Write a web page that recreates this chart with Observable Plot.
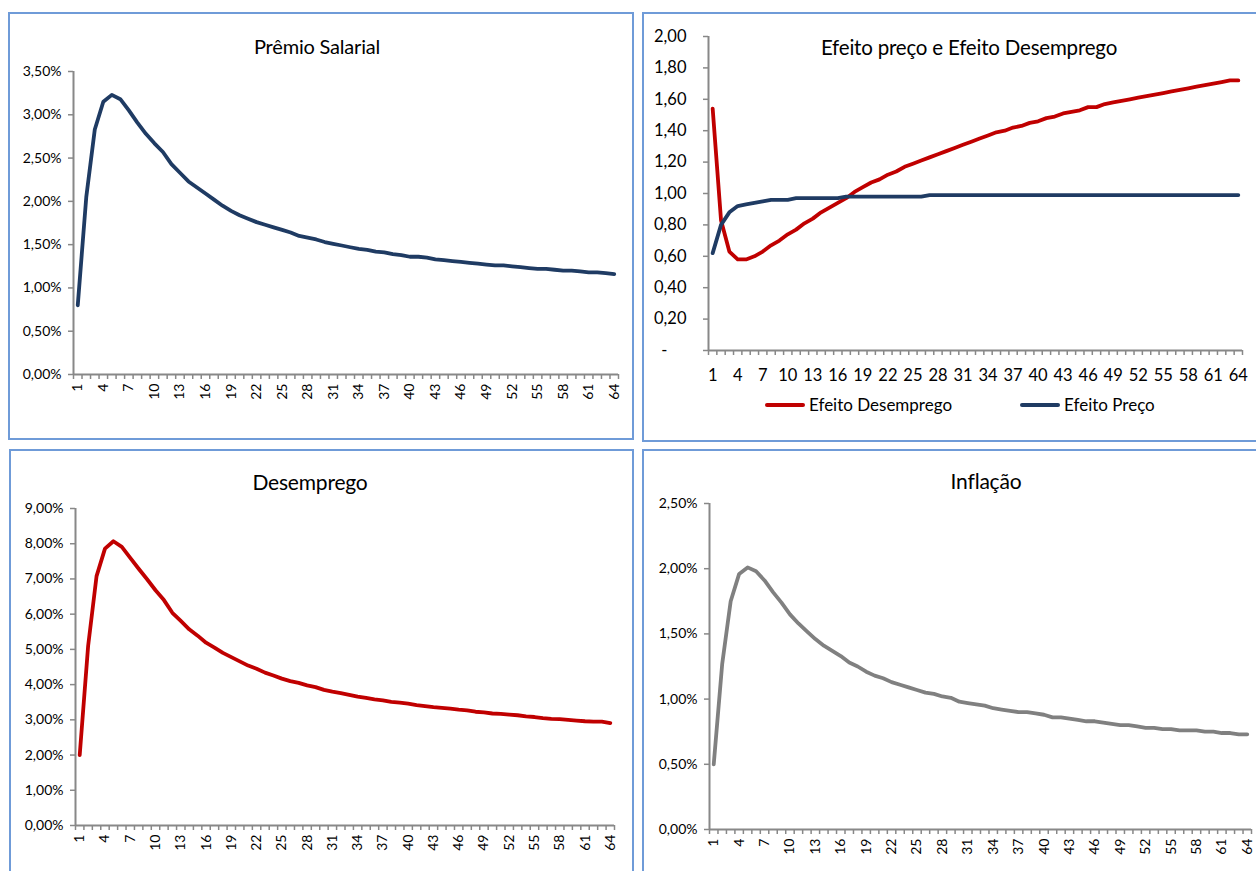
<!DOCTYPE html>
<html lang="pt-BR">
<head>
<meta charset="utf-8">
<script src="https://cdn.jsdelivr.net/npm/d3@7"></script>
<script src="https://cdn.jsdelivr.net/npm/@observablehq/plot@0.6"></script>
<style>
  html, body { margin: 0; padding: 0; background: #fff; width: 1256px; height: 871px; overflow: hidden; }
  body { position: relative; font-family: Lato, "Open Sans", sans-serif; color: #000; }
  .frame { position: absolute; box-sizing: border-box; border: 2px solid #6f9bd8; background: #fff; }
  .frame svg { position: absolute; left: 0; top: 0; }
  .title { position: absolute; transform: translate(-50%, -50%); white-space: nowrap; font-size: 20px; letter-spacing: -0.2px; }
  .legend { position: absolute; display: flex; align-items: center; font-size: 17px; white-space: nowrap; }
  .legend .sw { display: inline-block; width: 40px; height: 4px; border-radius: 2px; margin-right: 4px; }
</style>
</head>
<body>
<div id="p1" class="frame" style="left:8px;top:12px;width:626px;height:428px"></div>
<div id="p2" class="frame" style="left:642px;top:12px;width:626px;height:430px"></div>
<div id="p3" class="frame" style="left:9px;top:449px;width:625px;height:430px"></div>
<div id="p4" class="frame" style="left:642px;top:449px;width:626px;height:430px"></div>
<script>
// Simulation periods and the labelled subset on the category axis
const periods = d3.range(1, 65);
const periodLabels = [1, 4, 7, 10, 13, 16, 19, 22, 25, 28, 31, 34, 37, 40, 43, 46, 49, 52, 55, 58, 61, 64];

// Prêmio Salarial (%)
const premioSalarial = [0.80, 2.05, 2.83, 3.15, 3.23, 3.18, 3.05, 2.91, 2.78, 2.67, 2.57, 2.43, 2.33, 2.23, 2.16, 2.09,
  2.02, 1.95, 1.89, 1.84, 1.80, 1.76, 1.73, 1.70, 1.67, 1.64, 1.60, 1.58, 1.56, 1.53, 1.51, 1.49,
  1.47, 1.45, 1.44, 1.42, 1.41, 1.39, 1.38, 1.36, 1.36, 1.35, 1.33, 1.32, 1.31, 1.30, 1.29, 1.28,
  1.27, 1.26, 1.26, 1.25, 1.24, 1.23, 1.22, 1.22, 1.21, 1.20, 1.20, 1.19, 1.18, 1.18, 1.17, 1.16];

// Efeito Desemprego and Efeito Preço (index)
const efeitoDesemprego = [1.54, 0.83, 0.63, 0.58, 0.58, 0.60, 0.63, 0.67, 0.70, 0.74, 0.77, 0.81, 0.84, 0.88, 0.91, 0.94,
  0.97, 1.01, 1.04, 1.07, 1.09, 1.12, 1.14, 1.17, 1.19, 1.21, 1.23, 1.25, 1.27, 1.29, 1.31, 1.33,
  1.35, 1.37, 1.39, 1.40, 1.42, 1.43, 1.45, 1.46, 1.48, 1.49, 1.51, 1.52, 1.53, 1.55, 1.55, 1.57,
  1.58, 1.59, 1.60, 1.61, 1.62, 1.63, 1.64, 1.65, 1.66, 1.67, 1.68, 1.69, 1.70, 1.71, 1.72, 1.72];
const efeitoPreco = [0.62, 0.80, 0.88, 0.92, 0.93, 0.94, 0.95, 0.96, 0.96, 0.96, 0.97, 0.97, 0.97, 0.97, 0.97, 0.97,
  0.98, 0.98, 0.98, 0.98, 0.98, 0.98, 0.98, 0.98, 0.98, 0.98, 0.99, 0.99, 0.99, 0.99, 0.99, 0.99,
  0.99, 0.99, 0.99, 0.99, 0.99, 0.99, 0.99, 0.99, 0.99, 0.99, 0.99, 0.99, 0.99, 0.99, 0.99, 0.99,
  0.99, 0.99, 0.99, 0.99, 0.99, 0.99, 0.99, 0.99, 0.99, 0.99, 0.99, 0.99, 0.99, 0.99, 0.99, 0.99];

// Desemprego (%)
const desemprego = [2.00, 5.10, 7.08, 7.86, 8.07, 7.91, 7.60, 7.29, 6.99, 6.68, 6.40, 6.04, 5.81, 5.57, 5.39, 5.19,
  5.05, 4.90, 4.78, 4.66, 4.54, 4.45, 4.34, 4.26, 4.17, 4.10, 4.05, 3.98, 3.93, 3.85, 3.80, 3.76,
  3.71, 3.66, 3.62, 3.58, 3.55, 3.51, 3.49, 3.46, 3.42, 3.39, 3.36, 3.34, 3.32, 3.29, 3.27, 3.23,
  3.21, 3.18, 3.17, 3.15, 3.13, 3.10, 3.08, 3.05, 3.03, 3.02, 3.00, 2.98, 2.96, 2.95, 2.95, 2.91];

// Inflação (%)
const inflacao = [0.50, 1.27, 1.75, 1.96, 2.01, 1.98, 1.91, 1.82, 1.74, 1.65, 1.58, 1.52, 1.46, 1.41, 1.37, 1.33,
  1.28, 1.25, 1.21, 1.18, 1.16, 1.13, 1.11, 1.09, 1.07, 1.05, 1.04, 1.02, 1.01, 0.98, 0.97, 0.96,
  0.95, 0.93, 0.92, 0.91, 0.90, 0.90, 0.89, 0.88, 0.86, 0.86, 0.85, 0.84, 0.83, 0.83, 0.82, 0.81,
  0.80, 0.80, 0.79, 0.78, 0.78, 0.77, 0.77, 0.76, 0.76, 0.76, 0.75, 0.75, 0.74, 0.74, 0.73, 0.73];

// Value-axis ticks per panel
const premioTicks = [0, 0.5, 1, 1.5, 2, 2.5, 3, 3.5];
const efeitoTicks = [0, 0.2, 0.4, 0.6, 0.8, 1.0, 1.2, 1.4, 1.6, 1.8, 2.0];
const desempregoTicks = [0, 1, 2, 3, 4, 5, 6, 7, 8, 9];
const inflacaoTicks = [0, 0.5, 1, 1.5, 2, 2.5];

const NAVY = "#1f3b63", RED = "#c00000", GREY = "#808080", AXIS = "#888888";

const pct = d => d.toFixed(2).replace(".", ",") + "%";
const dec = d => d === 0 ? "-\u2007\u2007" : d.toFixed(2).replace(".", ",");
// category boundaries for the small tick marks on the x axis
const bounds = [0.5, ...periods.map(p => p + 0.5)];

function panel({id, width, height, margin, yTicks, yFormat, yFont, yPad, xRotate, xFont, xPad, series, title, titleX, titleY, titleSize}) {
  const frame = document.getElementById(id);
  const chart = Plot.plot({
    width, height,
    marginTop: margin[0], marginRight: margin[1], marginBottom: margin[2], marginLeft: margin[3],
    x: {domain: [0.5, 64.5]},
    y: {domain: [0, yTicks[yTicks.length - 1]]},
    style: {fontFamily: "Lato, 'Open Sans', sans-serif", color: "#000", background: "transparent", overflow: "visible"},
    marks: [
      Plot.axisY({ticks: yTicks, tickSize: 5, tickPadding: yPad, tickFormat: yFormat, stroke: AXIS, strokeWidth: 1.5, fontSize: yFont, label: null}),
      Plot.axisX({ticks: bounds, tickSize: 5, tickFormat: () => "", stroke: AXIS, strokeWidth: 1.5, label: null}),
      Plot.axisX({ticks: periodLabels, tickSize: 0, tickPadding: xPad, tickRotate: xRotate, tickFormat: d => String(d), fontSize: xFont, label: null}),
      Plot.ruleX([0.5], {stroke: AXIS, strokeWidth: 2}),
      Plot.ruleY([0], {stroke: AXIS, strokeWidth: 2}),
      ...series.map(s => Plot.line(periods, {x: d => d, y: (d, i) => s.values[i], stroke: s.color, strokeWidth: 3.8}))
    ]
  });
  frame.appendChild(chart);
  const t = document.createElement("div");
  t.className = "title";
  t.textContent = title;
  t.style.left = titleX + "px";
  t.style.top = titleY + "px";
  if (titleSize) t.style.fontSize = titleSize + "px";
  frame.appendChild(t);
  return frame;
}

panel({id: "p1", width: 622, height: 424, margin: [57, 14, 64, 63],
  yTicks: premioTicks, yFormat: pct, yFont: 14, yPad: 7,
  xRotate: -90, xFont: 14, xPad: 9,
  series: [{values: premioSalarial, color: NAVY}],
  title: "Prêmio Salarial", titleX: 307, titleY: 32});

const p2 = panel({id: "p2", width: 612, height: 426, margin: [22, 14, 90, 64],
  yTicks: efeitoTicks, yFormat: dec, yFont: 16.5, yPad: 17,
  xRotate: 0, xFont: 16.5, xPad: 19,
  series: [{values: efeitoDesemprego, color: RED}, {values: efeitoPreco, color: NAVY}],
  title: "Efeito preço e Efeito Desemprego", titleX: 325, titleY: 33, titleSize: 20.5});

panel({id: "p3", width: 621, height: 420, margin: [57, 18, 46, 64],
  yTicks: desempregoTicks, yFormat: pct, yFont: 14, yPad: 7,
  xRotate: -90, xFont: 14, xPad: 9,
  series: [{values: desemprego, color: RED}],
  title: "Desemprego", titleX: 299, titleY: 30, titleSize: 21});

panel({id: "p4", width: 612, height: 420, margin: [52, 5, 42, 65],
  yTicks: inflacaoTicks, yFormat: pct, yFont: 14, yPad: 7,
  xRotate: -90, xFont: 14, xPad: 9,
  series: [{values: inflacao, color: GREY}],
  title: "Inflação", titleX: 342, titleY: 29, titleSize: 21});

// Legend under the effects chart
const legend = document.createElement("div");
legend.className = "legend";
legend.style.left = "121px";
legend.style.top = "380px";
[["Efeito Desemprego", RED], ["Efeito Preço", NAVY]].forEach(([name, color], i) => {
  const item = document.createElement("span");
  item.style.display = "inline-flex";
  item.style.alignItems = "center";
  item.style.marginRight = i === 0 ? "68px" : "0";
  const sw = document.createElement("span");
  sw.className = "sw";
  sw.style.background = color;
  const label = document.createElement("span");
  label.textContent = name;
  item.append(sw, label);
  legend.appendChild(item);
});
p2.appendChild(legend);
</script>
</body>
</html>
